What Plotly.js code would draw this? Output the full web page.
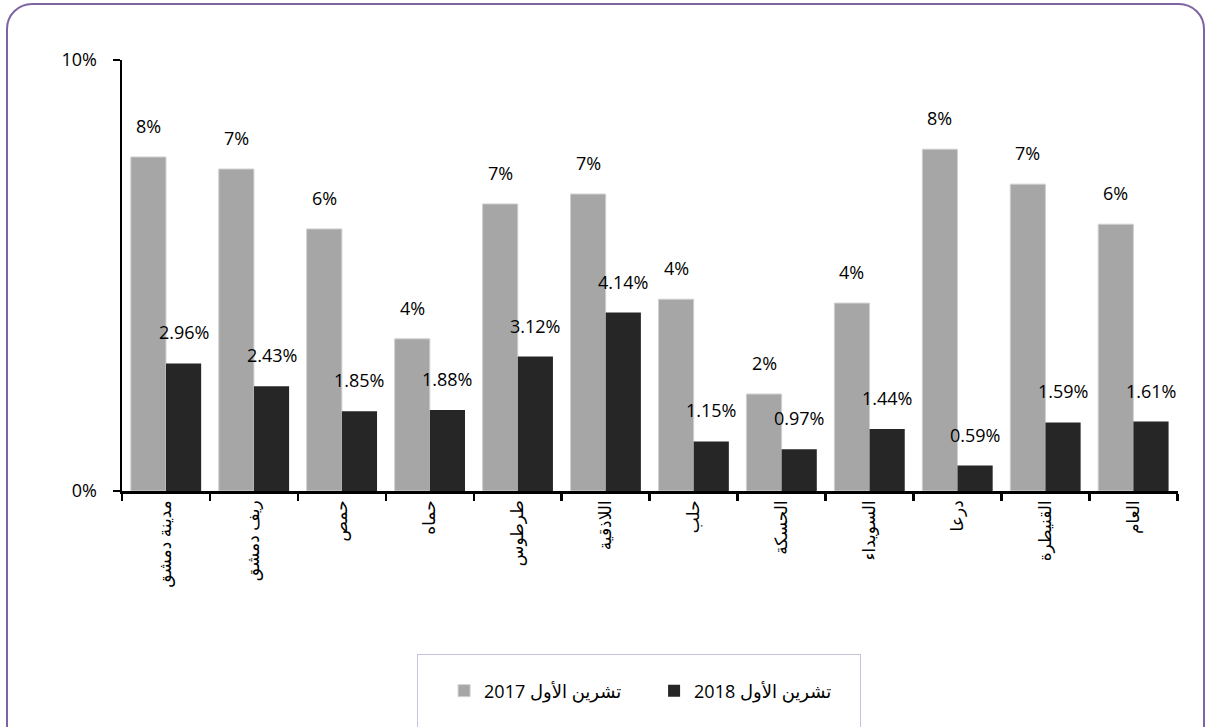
<!DOCTYPE html>
<html>
<head>
<meta charset="utf-8">
<script src="https://cdn.plot.ly/plotly-3.0.1.min.js"></script>
<style>
  html, body { margin: 0; padding: 0; background: #fff; overflow: hidden; }
  #wrap { position: relative; width: 1205px; height: 727px; overflow: hidden; }
  #chart { position: absolute; left: 0; top: 0; width: 1205px; height: 727px; }
  #frame { position: absolute; left: 6px; top: 3px; width: 1195px; height: 800px;
           border: 2px solid #8064a2; border-radius: 26px; pointer-events: none; }
  #legbox { position: absolute; left: 417px; top: 654px; width: 442px; height: 120px;
            border: 1.5px solid #ccc1da; pointer-events: none; }
</style>
</head>
<body>
<div id="wrap">
  <div id="chart"></div>
  <div id="frame"></div>
  <div id="legbox"></div>
</div>
<script>
const categories = ['مدينة دمشق', 'ريف دمشق', 'حمص', 'حماه', 'طرطوس', 'اللاذقية', 'حلب', 'الحسكة', 'السويداء', 'درعا', 'القنيطرة', 'العام'];
const oct2017 = [7.75, 7.47, 6.08, 3.53, 6.66, 6.89, 4.45, 2.25, 4.36, 7.93, 7.12, 6.19];
const oct2018 = [2.96, 2.43, 1.85, 1.88, 3.12, 4.14, 1.15, 0.97, 1.44, 0.59, 1.59, 1.61];
const seriesNames = ['تشرين الأول 2017', 'تشرين الأول 2018'];
const yTickVals = [0, 10];
const yTickText = ['0%', '10%'];

const FONT = '"Open Sans", "DejaVu Sans", sans-serif';

const traces = [
  { type: 'bar', name: seriesNames[0], x: categories, y: oct2017,
    marker: { color: '#a6a6a6', line: { color: '#d0d0d0', width: 1 } }, hoverinfo: 'skip' },
  { type: 'bar', name: seriesNames[1], x: categories, y: oct2018,
    marker: { color: '#262626', line: { color: '#262626', width: 0 } }, hoverinfo: 'skip' }
];

const annotations = [];
categories.forEach((c, i) => {
  annotations.push({ x: c, y: oct2017[i], xref: 'x', yref: 'y', text: Math.round(oct2017[i]) + '%',
    showarrow: false, xshift: -17.6, yshift: 31, font: { family: FONT, size: 18, color: '#000' } });
  annotations.push({ x: c, y: oct2018[i], xref: 'x', yref: 'y', text: oct2018[i].toFixed(2) + '%',
    showarrow: false, xshift: 17.6, yshift: 31, font: { family: FONT, size: 18, color: '#000' } });
});

const layout = {
  width: 1205, height: 727,
  margin: { l: 122, r: 27, t: 60, b: 236 },
  paper_bgcolor: 'rgba(0,0,0,0)', plot_bgcolor: 'rgba(0,0,0,0)',
  font: { family: FONT, size: 18, color: '#000' },
  barmode: 'group', bargap: 0.2, bargroupgap: 0,
  showlegend: true,
  legend: { orientation: 'h', x: 0.305, y: -0.421, xanchor: 'left', yanchor: 'top',
            entrywidth: 165, entrywidthmode: 'pixels',
            font: { family: FONT, size: 18, color: '#000' }, traceorder: 'normal',
            bgcolor: 'rgba(0,0,0,0)' },
  xaxis: { type: 'category', showline: true, linecolor: '#000', linewidth: 2.5,
           ticks: 'outside', tickson: 'boundaries', ticklen: 7, tickwidth: 2.5, tickcolor: '#000',
           tickangle: -90, showgrid: false, zeroline: false, fixedrange: true,
           tickfont: { family: FONT, size: 17, color: '#000' } },
  yaxis: { range: [0, 10], tickvals: yTickVals, ticktext: yTickText, showline: true, linecolor: '#000', linewidth: 2.5,
           ticks: 'outside', ticklen: 7, tickwidth: 2.5, tickcolor: '#000', ticklabelstandoff: 12,
           showgrid: false, zeroline: false, fixedrange: true,
           tickfont: { family: FONT, size: 18, color: '#000' } },
  annotations: annotations
};

Plotly.newPlot('chart', traces, layout, { displayModeBar: false, staticPlot: true });
</script>
</body>
</html>
